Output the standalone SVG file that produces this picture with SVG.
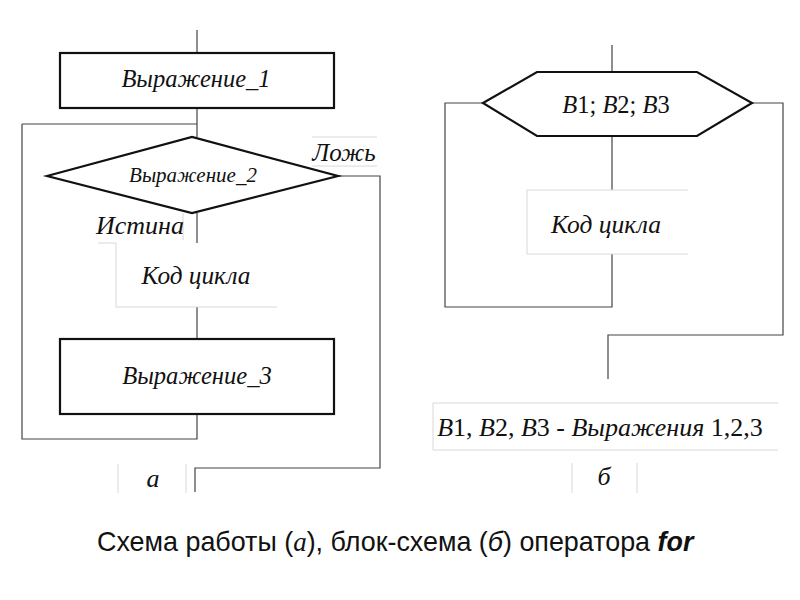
<svg xmlns="http://www.w3.org/2000/svg" width="800" height="600" viewBox="0 0 800 600">
<style>
.box{fill:#fff;stroke:#111;stroke-width:2.2}
.ln{fill:none;stroke:#444;stroke-width:1.2}
.faint{fill:none;stroke:#d8d8d8;stroke-width:1}
.t{font-family:"Liberation Serif",serif;font-style:italic;fill:#111}
.u{font-style:normal}
.cap{font-family:"Liberation Sans",sans-serif;font-size:26.9px;fill:#111}
</style>
<rect width="800" height="600" fill="#fff"/>
<g id="connectors">
<path class="ln" d="M197 30V53M197 108V137M22 124H197M22 124V439H197V414M197 213V243M197 307V339"/>
<path class="ln" d="M338 176H380V468H195V492"/>
<path class="ln" d="M612 45V72M612 136V190M612 254V307H445V103H483M752 103H783V335H608V379"/>
</g>
<g id="n1"><rect class="box" x="60" y="53" width="274" height="55"/><text class="t" x="196" y="87" font-size="24.5" text-anchor="middle">Выражение_1</text></g>
<g id="n2"><polygon class="box" points="47,176 192,137 338,176 192,213"/><text class="t" x="193" y="182" font-size="21" text-anchor="middle">Выражение_2</text></g>
<g id="lbl-false"><path class="faint" d="M312 137H377M312 166H377"/><text class="t" x="344" y="161" font-size="25" text-anchor="middle">Ложь</text></g>
<g id="lbl-true"><path class="faint" d="M183 213V240"/><text class="t" x="140" y="234" font-size="26" text-anchor="middle">Истина</text></g>
<g id="n3"><path class="faint" d="M98 243H116V307H277"/><text class="t" x="196" y="284" font-size="25.3" text-anchor="middle">Код цикла</text></g>
<g id="n4"><rect class="box" x="60" y="339" width="274" height="75"/><text class="t" x="197" y="384" font-size="24.6" text-anchor="middle">Выражение_3</text></g>
<g id="lbl-a"><path class="faint" d="M118 464V493M186 464V493"/><text class="t" x="153" y="487" font-size="26" text-anchor="middle">а</text></g>
<g id="m1"><polygon class="box" points="483,103 537,72 697,72 752,103 697,136 537,136"/><text class="t" x="616" y="113" font-size="24.5" text-anchor="middle">B<tspan class="u">1; </tspan>B<tspan class="u">2; </tspan>B<tspan class="u">3</tspan></text></g>
<g id="m2"><path class="faint" d="M688 190H527V254H688"/><text class="t" x="606" y="233" font-size="25.5" text-anchor="middle">Код цикла</text></g>
<g id="legend"><path class="faint" d="M433 403V450H778M433 403H778"/><text class="t" x="600" y="436" font-size="26" text-anchor="middle">B<tspan class="u">1, </tspan>B<tspan class="u">2, </tspan>B<tspan class="u">3 - </tspan>Выражения<tspan class="u"> 1,2,3</tspan></text></g>
<g id="lbl-b"><path class="faint" d="M572 463V493M637 463V493"/><text class="t" x="604" y="485" font-size="26" text-anchor="middle">б</text></g>
<text class="cap" x="97" y="551">Схема работы (<tspan font-family="Liberation Serif" font-style="italic">а</tspan>), блок-схема (<tspan font-style="italic">б</tspan>) оператора <tspan font-weight="bold" font-style="italic">for</tspan></text>
</svg>
